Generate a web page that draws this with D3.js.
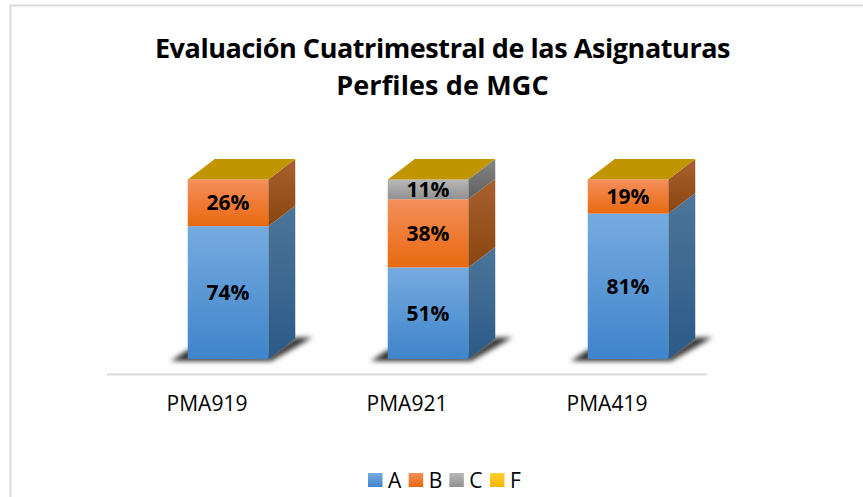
<!DOCTYPE html>
<html><head><meta charset="utf-8">
<script src="https://cdn.jsdelivr.net/npm/d3@7"></script>
<style>html,body{margin:0;padding:0;background:#fff}svg{display:block}text{font-family:"Open Sans",Lato,sans-serif;fill:#000}</style>
</head><body><div id="c"></div>
<script>
const categories = ["PMA919","PMA921","PMA419"];
const seriesNames = ["A","B","C","F"];
const valuesA = [74,51,81];
const valuesB = [26,38,19];
const valuesC = [0,11,0];
const valuesF = [0,0,0];
const titleLines = ["Evaluación Cuatrimestral de las Asignaturas","Perfiles de MGC"];

const W=863,H=497;
const colors={A:["#76abe0","#3f84ca"],B:["#f58f5c","#e8690f"],C:["#b8b8b8","#909090"],F:["#ffcf33","#f2b800"]};
const sideCol={A:["#4d7599","#2b5a88"],B:["#a8612f","#8a450f"],C:["#858585","#5f5f5f"],F:["#c09500","#c09500"]};
const topCol="#c09500";
const dx=27,dy=20.5,barW=80.5,frontShift=21;

const rows=categories.map((c,i)=>({cat:c,A:valuesA[i],B:valuesB[i],C:valuesC[i],F:valuesF[i]}));
const stack=d3.stack().keys(seriesNames)(rows);
const x=d3.scaleBand().domain(categories).range([107,707]).padding(0);
const y=d3.scaleLinear().domain([0,100]).range([359,179.5]);

const svg=d3.select("#c").append("svg").attr("width",W).attr("height",H);
const defs=svg.append("defs");
seriesNames.forEach(s=>{
  [["f",colors],["s",sideCol]].forEach(([p,m])=>{
    const g=defs.append("linearGradient").attr("id",p+s).attr("x1",0).attr("y1",0).attr("x2",0).attr("y2",1);
    g.append("stop").attr("offset",0).attr("stop-color",m[s][0]);
    g.append("stop").attr("offset",1).attr("stop-color",m[s][1]);
  });
});
const blur=defs.append("filter").attr("id","sh").attr("x","-30%").attr("y","-100%").attr("width","160%").attr("height","300%");
blur.append("feGaussianBlur").attr("stdDeviation",2.6);

// frame
svg.append("path").attr("d",`M${W},5.5H10.5V${H}`).attr("fill","none").attr("stroke","#dcdcdc").attr("stroke-width",2);

// title
svg.selectAll("text.title").data(titleLines).join("text").attr("class","title")
  .attr("x",442.5).attr("y",(d,i)=>57.5+i*37.5).attr("text-anchor","middle")
  .attr("letter-spacing",(d,i)=>i?0.13:-0.43)
  .attr("font-size",27).attr("font-weight",700).text(d=>d);

// axis line
svg.append("line").attr("x1",x.range()[0]).attr("x2",x.range()[1]).attr("y1",374.5).attr("y2",374.5).attr("stroke","#d9d9d9").attr("stroke-width",2);

// bars
const bars=svg.selectAll("g.bar").data(categories).join("g").attr("class","bar");
bars.each(function(c,i){
  const g=d3.select(this);
  const bc=x(c)+x.bandwidth()/2, cx=bc+frontShift, x0=cx-barW/2, x1=cx+barW/2, b=y(0);
  // shadow
  g.append("polygon").attr("filter","url(#sh)").attr("fill","#333")
    .attr("points",[[x0-17,b+2],[x1+3,b+2],[x1+dx+17,b-dy-1],[x1+dx,b-dy-1],[x1,b-3],[x0,b-9]].map(p=>p.join(",")).join(" "));
  stack.forEach(layer=>{
    const d=layer[i]; if(d[1]-d[0]<=0) return;
    const yt=y(d[1]), yb=y(d[0]), s=layer.key;
    g.append("polygon").attr("fill",`url(#s${s})`)
      .attr("points",[[x1,yt],[x1+dx,yt-dy],[x1+dx,yb-dy],[x1,yb]].map(p=>p.join(",")).join(" "));
    g.append("rect").attr("x",x0).attr("y",yt).attr("width",barW).attr("height",yb-yt).attr("fill",`url(#f${s})`);
  });
  const t=y(100);
  g.append("polygon").attr("fill",topCol)
    .attr("points",[[x0,t],[x0+dx,t-dy],[x1+dx,t-dy],[x1,t]].map(p=>p.join(",")).join(" "));
  stack.forEach(layer=>{
    const d=layer[i]; if(d[1]-d[0]<=0) return;
    g.append("text").attr("x",cx).attr("y",(y(d[0])+y(d[1]))/2+7.5).attr("text-anchor","middle")
      .attr("font-size",21).attr("font-weight",700).text((d[1]-d[0])+"%");
  });
  g.append("text").attr("x",bc).attr("y",411).attr("text-anchor","middle").attr("font-size",21).text(c);
});

// legend
const legendX=d3.scalePoint().domain(seriesNames).range([368,490]);
const leg=svg.selectAll("g.leg").data(seriesNames).join("g").attr("class","leg").attr("transform",d=>`translate(${legendX(d)},473)`);
leg.append("rect").attr("width",14.5).attr("height",14).attr("fill",d=>`url(#f${d})`);
leg.append("text").attr("x",20).attr("y",14.5).attr("font-size",21).text(d=>d);
</script></body></html>
